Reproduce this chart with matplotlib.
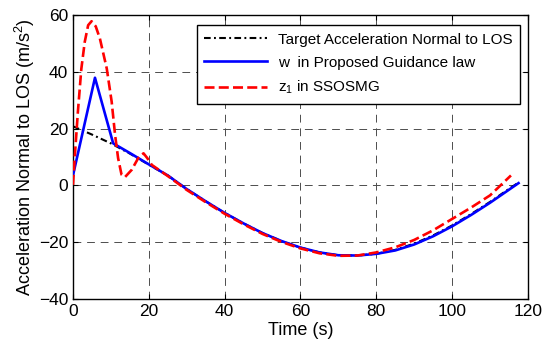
import numpy as np
import matplotlib
matplotlib.use('Agg')
import matplotlib.pyplot as plt

plt.rcParams['font.family'] = ['Liberation Sans', 'DejaVu Sans']
plt.rcParams['mathtext.default'] = 'regular'

# target acceleration normal to LOS
t_target = [0, 5, 10, 15, 20, 25, 30, 35, 40, 45, 50, 55, 60, 65, 70, 75,
            80, 85, 90, 95, 100, 105, 110, 115, 117.5]
a_target = [20.8, 17.9, 14.8, 11.2, 7.3, 3.5, -1.3, -5.6, -9.7, -13.4, -16.8,
            -19.6, -21.9, -23.6, -24.6, -24.7, -24.1, -22.7, -20.5, -17.6,
            -14.1, -10.1, -5.8, -1.2, 1.0]

# w in proposed guidance law
t_w = [0, 5.8, 10.6, 15, 20, 25, 30, 35, 40, 45, 50, 55, 60, 65, 70, 75,
       80, 85, 90, 95, 100, 105, 110, 115, 117.5]
a_w = [3.5, 37.9, 14.8, 11.4, 7.4, 3.5, -1.3, -5.6, -9.7, -13.4, -16.8,
       -19.6, -21.9, -23.6, -24.6, -24.7, -24.1, -22.9, -20.8, -17.9,
       -14.4, -10.4, -6.1, -1.5, 0.8]

# z1 in SSOSMG
t_z = [0, 0.45, 1.3, 2.2, 3.1, 4.0, 4.9, 6.0, 7.1, 8.9, 10.2, 11.1, 11.9,
       12.8, 13.7, 15.5, 17.2, 18.6, 19.6, 20.8, 25, 30, 35, 40, 45, 50, 55,
       60, 65, 70, 75, 80, 85, 90, 95, 100, 105, 110, 115.5]
a_z = [0.2, 9.6, 26.0, 41.0, 50.5, 56.4, 57.8, 56.0, 51.7, 41.2, 29.5, 17.8,
       9.6, 3.8, 2.9, 5.5, 9.6, 11.3, 9.6, 7.2, 3.3, -1.6, -5.9, -10.0,
       -13.7, -17.1, -19.9, -22.2, -23.9, -24.8, -24.7, -23.6, -21.8, -19.2,
       -15.8, -11.8, -7.8, -3.5, 3.5]

fig = plt.figure(figsize=(5.43, 3.52), dpi=100)
ax = fig.add_axes([0.1344, 0.1506, 0.8380, 0.8068])

ax.plot(t_target, a_target, color='k', lw=1.5, linestyle=(0, (3.2, 1.6, 0.9, 1.6)),
        label='Target Acceleration Normal to LOS', zorder=3)
ax.plot(t_w, a_w, color='#0000ff', lw=1.9, label='w  in Proposed Guidance law', zorder=4)
ax.plot(t_z, a_z, color='#ff0000', lw=1.9, linestyle=(0, (3.8, 1.6)),
        label='z$_1$ in SSOSMG', zorder=5)

ax.set_xlim(0, 120)
ax.set_ylim(-40, 60)
ax.set_xticks(np.arange(0, 121, 20))
ax.set_yticks(np.arange(-40, 61, 20))
ax.tick_params(direction='in', top=True, right=True, labelsize=12.5, length=3.8)
ax.grid(True, color='0.3', linestyle=(0, (8, 6)), lw=0.7)
for s in ax.spines.values():
    s.set_linewidth(1.0)

ax.set_xlabel('Time (s)', fontsize=13, labelpad=2)
ax.set_ylabel('Acceleration Normal to LOS (m/s$^2$)', fontsize=13, labelpad=1)

leg = ax.legend(loc='upper right', bbox_to_anchor=(0.982, 0.965), borderaxespad=0,
                fontsize=11, fancybox=False, framealpha=1, edgecolor='k',
                handlelength=4.1, labelspacing=0.6, borderpad=0.5,
                handletextpad=0.7)
leg.get_frame().set_linewidth(1.0)

fig.savefig('out.png', dpi=100)
